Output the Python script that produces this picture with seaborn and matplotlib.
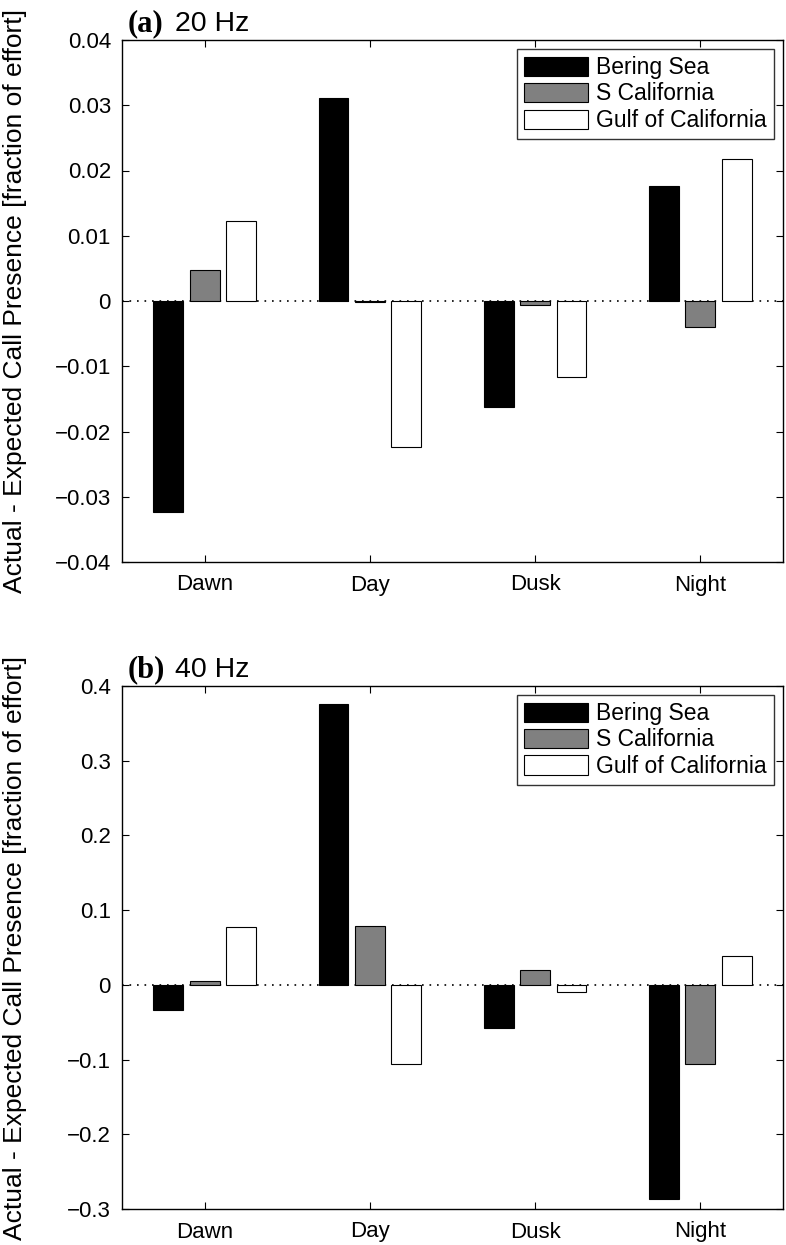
import pandas as pd
import matplotlib.pyplot as plt
import seaborn as sns
from matplotlib.ticker import FuncFormatter

# data
periods = ['Dawn', 'Day', 'Dusk', 'Night']
sites = ['Bering Sea', 'S California', 'Gulf of California']

# (a) 20 Hz
bering_20 = [-0.0323, 0.0311, -0.0163, 0.0176]
scal_20 = [0.0047, -0.0002, -0.0006, -0.0040]
gulf_20 = [0.0123, -0.0223, -0.0117, 0.0218]

# (b) 40 Hz
bering_40 = [-0.033, 0.376, -0.058, -0.287]
scal_40 = [0.005, 0.079, 0.020, -0.106]
gulf_40 = [0.078, -0.106, -0.010, 0.038]

yticks_20 = [-0.04, -0.03, -0.02, -0.01, 0, 0.01, 0.02, 0.03, 0.04]
yticks_40 = [-0.3, -0.2, -0.1, 0, 0.1, 0.2, 0.3, 0.4]

colors = ['#000000', '#808080', '#ffffff']


def long_table(b, s, g):
    rows = []
    for site, vals in zip(sites, [b, s, g]):
        for p, v in zip(periods, vals):
            rows.append({'period': p, 'site': site, 'value': v})
    return pd.DataFrame(rows)


def fmt(v, _):
    if abs(v) < 1e-12:
        return '0'
    return f'{v:g}'.replace('-', '\u2212')


sns.set_style('ticks')
plt.rcParams['font.family'] = ['Liberation Sans', 'DejaVu Sans']
plt.rcParams['font.size'] = 16
plt.rcParams['text.color'] = 'black'
plt.rcParams['axes.labelcolor'] = 'black'

W, H = 786, 1245
fig = plt.figure(figsize=(W / 100, H / 100), dpi=100)
ax1 = fig.add_axes([122 / W, 1 - 562 / H, 661 / W, 522 / H])
ax2 = fig.add_axes([122 / W, 1 - 1209 / H, 661 / W, 523 / H])

panels = [
    (ax1, long_table(bering_20, scal_20, gulf_20), yticks_20, '(a)', '20 Hz', 40),
    (ax2, long_table(bering_40, scal_40, gulf_40), yticks_40, '(b)', '40 Hz', 686),
]

for ax, df, yt, tag, freq, top_px in panels:
    ax.axhline(0, color='black', linestyle=(0, (1, 3.5)), linewidth=1.2, zorder=0)
    sns.barplot(data=df, x='period', y='value', hue='site', palette=colors,
                width=0.66, gap=0.18, edgecolor='black', linewidth=0.8,
                ax=ax, zorder=2)
    ax.set_xlim(-0.5, 3.5)
    ax.set_ylim(yt[0], yt[-1])
    ax.set_yticks(yt)
    ax.yaxis.set_major_formatter(FuncFormatter(fmt))
    ax.set_xlabel('')
    ax.set_ylabel('Actual - Expected Call Presence [fraction of effort]',
                  fontsize=19, color='black')
    ax.yaxis.set_label_coords(-0.143, 0.5)
    ax.tick_params(direction='in', top=True, right=True, length=5, width=0.8,
                   labelsize=16, colors='black')
    ax.tick_params(axis='y', pad=8)
    ax.tick_params(axis='x', pad=9)
    for sp in ax.spines.values():
        sp.set_linewidth(1.0)
        sp.set_color('black')
    leg = ax.legend(loc='upper right', handlelength=2.8, handleheight=0.9,
                    labelspacing=0.15, borderaxespad=0.4, fancybox=False,
                    frameon=True, fontsize=16.5, handletextpad=0.35, borderpad=0.3,
                    title=None)
    leg.get_frame().set_edgecolor('black')
    leg.get_frame().set_linewidth(1.0)
    for t in leg.get_texts():
        t.set_color('black')
    # panel title: bold serif tag + sans frequency
    fig.text(128 / W, 1 - (top_px - 9) / H, tag, fontsize=22, fontweight='bold',
             family=['Liberation Serif', 'DejaVu Serif'], va='baseline', color='black')
    fig.text(175 / W, 1 - (top_px - 9) / H, freq, fontsize=20.5, va='baseline',
             color='black')

fig.savefig('out.png', dpi=100)
